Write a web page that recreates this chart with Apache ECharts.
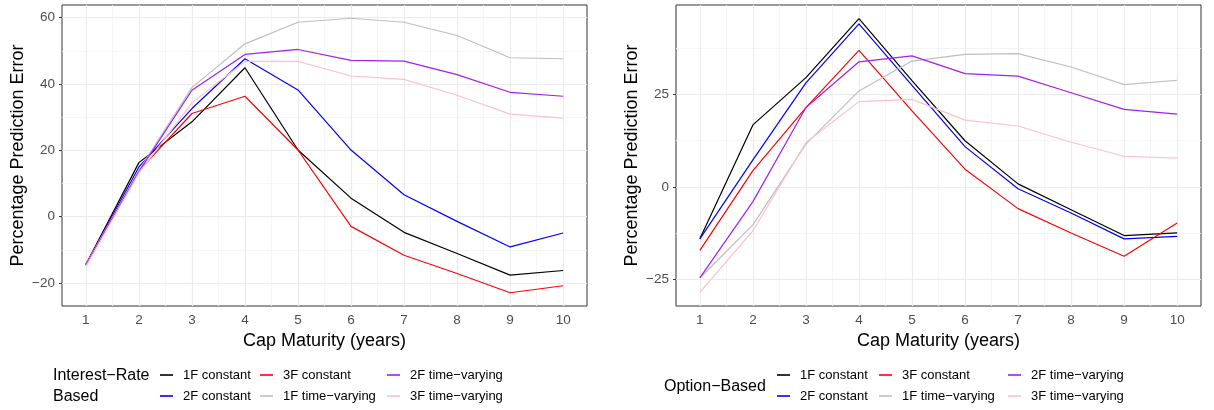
<!DOCTYPE html>
<html>
<head>
<meta charset="utf-8">
<script src="https://cdn.jsdelivr.net/npm/echarts@6/dist/echarts.min.js"></script>
<style>
html,body{margin:0;padding:0;background:#fff;}
#chart{width:1214px;height:410px;}
</style>
</head>
<body>
<div id="chart"></div>
<script>
// ---- data ----
const maturities = [1, 2, 3, 4, 5, 6, 7, 8, 9, 10];
const seriesNames = ['1F constant', '2F constant', '3F constant', '1F time\u2212varying', '2F time\u2212varying', '3F time\u2212varying'];
const seriesColors = ['#000000', '#0000FF', '#FF0000', '#BEBEBE', '#A020F0', '#FFC0CB'];

// Interest-Rate Based (left panel)
const ir1Fconst = [-14.4, 16.3, 28.6, 44.9, 20.1, 5.6, -4.7, -11.1, -17.6, -16.2];
const ir2Fconst = [-14.5, 15.0, 32.6, 47.6, 38.2, 20.1, 6.6, -1.4, -9.1, -4.9];
const ir3Fconst = [-14.3, 13.8, 31.1, 36.3, 20.1, -2.9, -11.6, -17.1, -22.9, -20.8];
const ir1Ftv = [-14.5, 14.0, 38.9, 52.1, 58.6, 59.8, 58.6, 54.6, 47.9, 47.6];
const ir2Ftv = [-14.6, 13.6, 38.1, 48.9, 50.4, 47.1, 46.9, 42.8, 37.5, 36.3];
const ir3Ftv = [-15.0, 13.2, 34.3, 46.8, 46.8, 42.4, 41.4, 36.6, 30.9, 29.7];

// Option Based (right panel)
const ob1Fconst = [-14.1, 16.8, 29.6, 45.6, 28.8, 12.5, 0.8, -6.2, -13.2, -12.5];
const ob2Fconst = [-14.1, 7.3, 28.2, 44.2, 27.5, 10.9, -0.5, -7.1, -14.1, -13.4];
const ob3Fconst = [-17.2, 4.4, 21.5, 37.0, 20.6, 4.8, -5.9, -12.5, -18.8, -9.8];
const ob1Ftv = [-24.7, -10.3, 11.6, 26.0, 34.1, 35.9, 36.1, 32.5, 27.7, 28.9];
const ob2Ftv = [-24.7, -4.0, 21.5, 33.9, 35.5, 30.7, 30.0, 25.5, 21.0, 19.7];
const ob3Ftv = [-28.6, -11.9, 12.0, 23.1, 23.7, 18.1, 16.5, 12.1, 8.3, 7.8];

// ticks
const xTicks = [1, 2, 3, 4, 5, 6, 7, 8, 9, 10];
const xMinor = [1.5, 2.5, 3.5, 4.5, 5.5, 6.5, 7.5, 8.5, 9.5];
const yTicksLeft = [-20, 0, 20, 40, 60];
const yMinorLeft = [-10, 10, 30, 50];
const yTicksRight = [-25, 0, 25];
const yMinorRight = [-12.5, 12.5, 37.5];

const legendTitleLeft = ['Interest\u2212Rate', 'Based'];
const legendTitleRight = 'Option\u2212Based';
const xTitle = 'Cap Maturity (years)';
const yTitle = 'Percentage Prediction Error';

// ---- chart ----
const FONT = 'Liberation Sans, Arial, Helvetica, sans-serif';
const chart = echarts.init(document.getElementById('chart'), null, {renderer: 'canvas'});

const grids = [
  {left: 62, top: 5, width: 525, height: 301},
  {left: 676, top: 5, width: 525, height: 301}
];

const fmt = v => String(v).replace('-', '\u2212');

function xAxisFor(i) {
  return {
    type: 'value', gridIndex: i, min: 0.55, max: 10.45,
    name: xTitle, nameLocation: 'middle', nameGap: 22,
    nameTextStyle: {fontFamily: FONT, fontSize: 18, color: '#000'},
    axisLine: {show: false},
    axisTick: {show: true, length: 3, customValues: xTicks, lineStyle: {color: '#333', width: 1}},
    axisLabel: {customValues: xTicks, formatter: fmt, fontFamily: FONT, fontSize: 13.5, color: '#4D4D4D', margin: 7},
    splitLine: {show: false}
  };
}
function yAxisFor(i, min, max, ticks) {
  return {
    type: 'value', gridIndex: i, min: min, max: max,
    name: yTitle, nameLocation: 'middle', nameGap: 35,
    nameTextStyle: {fontFamily: FONT, fontSize: 18, color: '#000'},
    axisLine: {show: false},
    axisTick: {show: true, length: 3, customValues: ticks, lineStyle: {color: '#333', width: 1}},
    axisLabel: {customValues: ticks, formatter: fmt, fontFamily: FONT, fontSize: 13.5, color: '#4D4D4D', margin: 7},
    splitLine: {show: false}
  };
}

function gridLines(xMaj, xMin, yMaj, yMin) {
  const d = [];
  xMin.forEach(v => d.push({xAxis: v, lineStyle: {color: '#F2F2F2', width: 0.8, type: 'solid'}}));
  yMin.forEach(v => d.push({yAxis: v, lineStyle: {color: '#F2F2F2', width: 0.8, type: 'solid'}}));
  xMaj.forEach(v => d.push({xAxis: v, lineStyle: {color: '#EBEBEB', width: 1.2, type: 'solid'}}));
  yMaj.forEach(v => d.push({yAxis: v, lineStyle: {color: '#EBEBEB', width: 1.2, type: 'solid'}}));
  return {silent: true, symbol: ['none', 'none'], label: {show: false}, z: 1, animation: false, data: d};
}

const leftData = [ir1Fconst, ir2Fconst, ir3Fconst, ir1Ftv, ir2Ftv, ir3Ftv];
const rightData = [ob1Fconst, ob2Fconst, ob3Fconst, ob1Ftv, ob2Ftv, ob3Ftv];

const series = [];
[leftData, rightData].forEach((panel, gi) => {
  // gridline carrier
  series.push({
    type: 'line', name: '_grid' + gi, xAxisIndex: gi, yAxisIndex: gi,
    data: [[maturities[0], panel[0][0]]], symbol: 'none', lineStyle: {opacity: 0}, z: 1,
    silent: true, animation: false,
    markLine: gi === 0 ? gridLines(xTicks, xMinor, yTicksLeft, yMinorLeft) : gridLines(xTicks, xMinor, yTicksRight, yMinorRight)
  });
  panel.forEach((vals, si) => {
    series.push({
      type: 'line', name: seriesNames[si], xAxisIndex: gi, yAxisIndex: gi,
      data: maturities.map((m, k) => [m, vals[k]]),
      symbol: 'none', z: 3, animation: false,
      lineStyle: {color: seriesColors[si], width: 1.2},
      itemStyle: {color: seriesColors[si]}
    });
  });
});

// legends: one component per item for exact placement
const legends = [];
const colXLeft = [160, 260, 387];
const colXRight = [777, 879, 1008];
const rowY = [368, 389];
[colXLeft, colXRight].forEach(cols => {
  seriesNames.forEach((nm, si) => {
    const c = Math.floor(si / 2), r = si % 2;
    legends.push({
      show: true, left: cols[c], top: rowY[r], padding: 0, orient: 'horizontal',
      icon: 'rect', itemWidth: 13, itemHeight: 2, selectedMode: false,
      data: [{name: nm, itemStyle: {color: seriesColors[si], opacity: 0.8}}],
      textStyle: {fontFamily: FONT, fontSize: 13, color: '#000', lineHeight: 14, padding: [0, 0, 0, 5]}
    });
  });
});

chart.setOption({
  animation: false,
  backgroundColor: '#fff',
  textStyle: {fontFamily: FONT},
  grid: grids.map(g => Object.assign({show: true, borderColor: '#333', borderWidth: 1, backgroundColor: '#fff', containLabel: false}, g)),
  xAxis: [xAxisFor(0), xAxisFor(1)],
  yAxis: [yAxisFor(0, -26.9, 63.8, yTicksLeft), yAxisFor(1, -32.3, 49.3, yTicksRight)],
  legend: legends,
  series: series,
  graphic: [
    {type: 'text', x: 53, y: 376, style: {text: legendTitleLeft[0], font: '16px ' + FONT, fill: '#000', verticalAlign: 'middle'}},
    {type: 'text', x: 53, y: 397, style: {text: legendTitleLeft[1], font: '16px ' + FONT, fill: '#000', verticalAlign: 'middle'}},
    {type: 'text', x: 664, y: 387, style: {text: legendTitleRight, font: '16px ' + FONT, fill: '#000', verticalAlign: 'middle'}}
  ]
});
</script>
</body>
</html>
